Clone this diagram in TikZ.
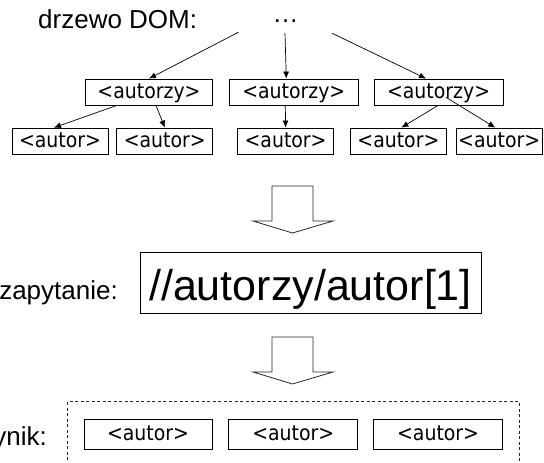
\documentclass[tikz,border=0pt]{standalone}
\usepackage{fontspec}
\setmainfont{Liberation Sans}
\newfontfamily\boxfont{DejaVu Sans Condensed}
\usetikzlibrary{fit,positioning,arrows.meta}

\begin{document}
\begin{tikzpicture}[x=1pt,y=-1pt]
\tikzstyle{box}=[rectangle, draw=black!100, line width=0.8pt, inner sep=0pt, minimum height=26pt, text height=12.5pt, text depth=0pt, font=\boxfont\fontsize{21}{21}\selectfont]
\tikzstyle{lab}=[inner sep=0pt, font=\fontsize{26}{26}\selectfont]
\tikzstyle{connect}=[-{Latex[length=7pt,width=6pt]}, line width=0.7pt]
\tikzstyle{bigarrow}=[draw=black!85, line width=0.8pt]
\tikzstyle{result}=[rectangle, draw=black!85, line width=0.8pt, dash pattern=on 3pt off 2.5pt, inner sep=16pt, inner ysep=17pt]
\useasboundingbox (0,0) rectangle (544,463);
  \node[lab, anchor=base west] (dom) at (38,28) {drzewo DOM:};
  \node[lab, anchor=base] (dots) at (285.5,23) {\dots};
  \node[box, minimum width=127pt] (az1) at (149,92) {<autorzy>};
  \node[box, minimum width=129pt] (az2) [right=16pt of az1] {<autorzy>};
  \node[box, minimum width=129pt] (az3) [right=15pt of az2] {<autorzy>};
  \node[box, minimum width=96pt] (a1) at (60,141) {<autor>};
  \node[box, minimum width=96pt] (a2) [right=8pt of a1] {<autor>};
  \node[box, minimum width=96pt] (a3) [right=24pt of a2] {<autor>};
  \node[box, minimum width=96pt] (a4) [right=16pt of a3] {<autor>};
  \node[box, minimum width=86pt] (a5) [right=9pt of a4] {<autor>};
\draw[connect] ([xshift=-47pt,yshift=-9pt]dots.south) -- (az1.north);
\draw[connect] ([xshift=-0.5pt,yshift=-10pt]dots.south) -- ([xshift=-7.5pt]az2.north);
\draw[connect] ([xshift=46.5pt,yshift=-10pt]dots.south) -- ([xshift=-12.5pt]az3.north);
\draw[connect] ([xshift=-32pt]az1.south) -- ([xshift=-6pt]a1.north);
\draw[connect] ([xshift=7pt]az1.south) -- (a2.north);
\draw[connect] ([xshift=-8.5pt]az2.south) -- (a3.north);
\draw[connect] ([xshift=-0.5pt]az3.south) -- ([xshift=3pt]a4.north);
\draw[connect] ([xshift=7.5pt,yshift=8pt]az3.south) -- ([xshift=-4pt]a5.north);
% strzalki blokowe
\foreach \y in {186,337}
  \draw[bigarrow] (272,\y) -- (313,\y) -- (313,{\y+35}) -- (333,{\y+35}) -- (292.5,{\y+47})
    -- (253,{\y+35}) -- (272,{\y+35}) -- cycle;
  \node[lab, anchor=base east] (zap) at (118,299) {zapytanie:};
  \node[box, minimum width=341pt, minimum height=61pt, text height=35pt, font=\fontsize{43}{43}\selectfont] (query) at (310.5,282.5) {//autorzy/autor[1]};
  \node[box, minimum width=128pt, minimum height=30pt] (r1) at (148,434) {<autor>};
  \node[box, minimum width=129pt, minimum height=30pt] (r2) [right=16pt of r1] {<autor>};
  \node[box, minimum width=129pt, minimum height=30pt] (r3) [right=15pt of r2] {<autor>};
  \node[result, fit=(r1)(r2)(r3)] (wyn) {};
  \node[lab, anchor=base east] (wynik) at (47,445) {ynik:};
\end{tikzpicture}
\end{document}
